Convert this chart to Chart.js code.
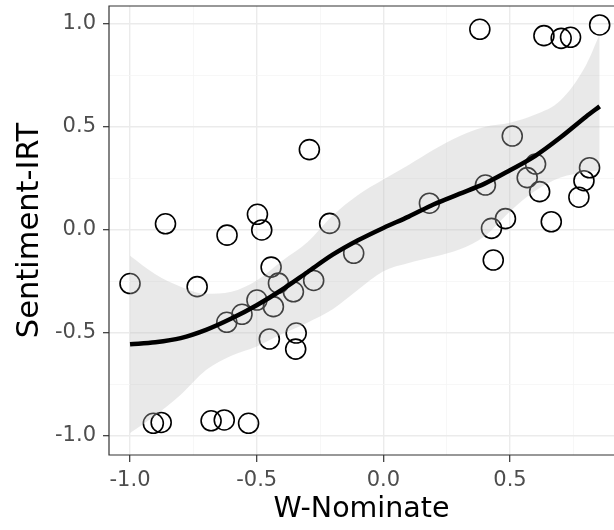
<!DOCTYPE html>
<html>
<head>
<meta charset="utf-8">
<script src="https://cdn.jsdelivr.net/npm/chart.js@4.4.1/dist/chart.umd.min.js"></script>
<style>
  html, body { margin: 0; padding: 0; background: #ffffff; overflow: hidden; }
  #chart { display: block; }
</style>
</head>
<body>
<canvas id="chart" width="614" height="530"></canvas>
<script>
// Observed points (W-Nominate vs Sentiment-IRT)
const nominate = [
  -1.00, -0.86, -0.735, -0.617, -0.497, -0.48, -0.443, -0.414, -0.355, -0.275,
  -0.117, -0.212, -0.292, -0.499, -0.434, -0.558, -0.618, -0.45, -0.344, -0.346,
  -0.908, -0.877, -0.68, -0.628, -0.532, 0.182, 0.381, 0.634, 0.702, 0.739,
  0.854, 0.509, 0.601, 0.568, 0.617, 0.814, 0.792, 0.772, 0.403, 0.663,
  0.482, 0.427, 0.434
];
const sentiment = [
  -0.26, 0.03, -0.275, -0.025, 0.076, 0.0, -0.18, -0.258, -0.30, -0.245,
  -0.113, 0.032, 0.39, -0.34, -0.372, -0.409, -0.448, -0.529, -0.50, -0.578,
  -0.938, -0.934, -0.926, -0.922, -0.938, 0.13, 0.974, 0.943, 0.93, 0.935,
  0.995, 0.456, 0.32, 0.254, 0.186, 0.302, 0.239, 0.159, 0.218, 0.04,
  0.055, 0.008, -0.146
];

// Smoothed fit and its confidence band
const fitX     = [-1.0, -0.9, -0.8, -0.7, -0.6, -0.5, -0.4, -0.3, -0.2, -0.1, 0.0, 0.1, 0.2, 0.3, 0.4, 0.5, 0.6, 0.7, 0.8, 0.854];
const fitY     = [-0.555, -0.545, -0.525, -0.485, -0.43, -0.365, -0.29, -0.205, -0.12, -0.05, 0.01, 0.065, 0.125, 0.175, 0.225, 0.29, 0.36, 0.45, 0.55, 0.60];
const fitLower = [-0.985, -0.90, -0.80, -0.68, -0.61, -0.565, -0.505, -0.45, -0.385, -0.29, -0.2, -0.16, -0.13, -0.095, -0.03, 0.09, 0.19, 0.255, 0.28, 0.29];
const fitUpper = [-0.125, -0.215, -0.275, -0.31, -0.30, -0.245, -0.15, -0.06, 0.07, 0.17, 0.245, 0.315, 0.39, 0.455, 0.50, 0.52, 0.56, 0.63, 0.80, 0.95];

// Axis ticks (major ones get labels, the others are minor grid lines)
const xTicks = [-1.0, -0.75, -0.5, -0.25, 0.0, 0.25, 0.5, 0.75];
const yTicks = [-1.0, -0.75, -0.5, -0.25, 0.0, 0.25, 0.5, 0.75, 1.0];
const isMajor = v => Math.abs(v * 2 - Math.round(v * 2)) < 1e-6;

const toXY = (xs, ys) => xs.map((x, i) => ({ x: x, y: ys[i] }));

// Panel border like theme_bw (the right side is cut off in the original)
const panelBorder = {
  id: 'panelBorder',
  afterDatasetsDraw(chart) {
    const { ctx, chartArea: a } = chart;
    ctx.save();
    ctx.strokeStyle = '#333333';
    ctx.lineWidth = 1.2;
    ctx.beginPath();
    ctx.moveTo(a.right + 2, a.top);
    ctx.lineTo(a.left, a.top);
    ctx.lineTo(a.left, a.bottom);
    ctx.lineTo(a.right + 2, a.bottom);
    ctx.stroke();
    ctx.restore();
  }
};

const fontFamily = 'DejaVu Sans, Verdana, sans-serif';
const tickFont = { family: fontFamily, size: 21 };

const ctx = document.getElementById('chart').getContext('2d');
const chart = new Chart(ctx, {
  type: 'scatter',
  data: {
    datasets: [
      {
        label: 'points',
        data: toXY(nominate, sentiment),
        pointRadius: 10,
        pointHoverRadius: 10,
        pointBorderWidth: 1.6,
        borderColor: '#000000',
        backgroundColor: 'rgba(0,0,0,0)',
        order: 3
      },
      {
        label: 'lower',
        data: toXY(fitX, fitLower),
        showLine: true,
        pointRadius: 0,
        borderWidth: 0,
        borderColor: 'rgba(0,0,0,0)',
        cubicInterpolationMode: 'monotone',
        fill: false,
        order: 2
      },
      {
        label: 'upper',
        data: toXY(fitX, fitUpper),
        showLine: true,
        pointRadius: 0,
        borderWidth: 0,
        borderColor: 'rgba(0,0,0,0)',
        backgroundColor: 'rgba(190,190,190,0.34)',
        cubicInterpolationMode: 'monotone',
        fill: 1,
        order: 1
      },
      {
        label: 'fit',
        data: toXY(fitX, fitY),
        showLine: true,
        pointRadius: 0,
        borderWidth: 4.5,
        borderColor: '#000000',
        cubicInterpolationMode: 'monotone',
        fill: false,
        order: 0
      }
    ]
  },
  plugins: [panelBorder],
  options: {
    responsive: false,
    animation: false,
    events: [],
    layout: { autoPadding: false, padding: { top: 6, right: 0, bottom: 0, left: 0 } },
    plugins: {
      legend: { display: false },
      tooltip: { enabled: false }
    },
    scales: {
      x: {
        type: 'linear',
        min: -1.083,
        max: 0.9106,
        afterBuildTicks: s => { s.ticks = xTicks.map(v => ({ value: v })); },
        afterFit: s => {
          s.height = 75;
          s.paddingLeft = 0; s.paddingRight = 0;
        },
        border: { display: false },
        grid: {
          color: c => isMajor(c.tick.value) ? '#ebebeb' : '#f5f5f5',
          lineWidth: c => isMajor(c.tick.value) ? 1.4 : 0.8,
          tickColor: c => isMajor(c.tick.value) ? '#333333' : 'rgba(0,0,0,0)',
          tickLength: 7,
          tickWidth: 1.2
        },
        ticks: {
          autoSkip: false,
          maxRotation: 0,
          padding: 6,
          color: '#4d4d4d',
          font: tickFont,
          callback: v => isMajor(v) ? v.toFixed(1) : ''
        },
        title: {
          display: true,
          text: 'W-Nominate',
          color: '#000000',
          font: { family: fontFamily, size: 28.5 },
          padding: { top: 0, bottom: 3 }
        }
      },
      y: {
        type: 'linear',
        min: -1.092,
        max: 1.087,
        afterBuildTicks: s => { s.ticks = yTicks.map(v => ({ value: v })); },
        afterFit: s => {
          s.width = 109;
          s.paddingTop = 0; s.paddingBottom = 0;
        },
        border: { display: false },
        grid: {
          color: c => isMajor(c.tick.value) ? '#ebebeb' : '#f5f5f5',
          lineWidth: c => isMajor(c.tick.value) ? 1.4 : 0.8,
          tickColor: c => isMajor(c.tick.value) ? '#333333' : 'rgba(0,0,0,0)',
          tickLength: 6,
          tickWidth: 1.2
        },
        ticks: {
          autoSkip: false,
          padding: 7,
          color: '#4d4d4d',
          font: tickFont,
          callback: v => isMajor(v) ? v.toFixed(1) : ''
        },
        title: {
          display: true,
          text: 'Sentiment-IRT',
          color: '#000000',
          font: { family: fontFamily, size: 30.5 },
          padding: { top: 12, bottom: 0 }
        }
      }
    }
  }
});
</script>
</body>
</html>
